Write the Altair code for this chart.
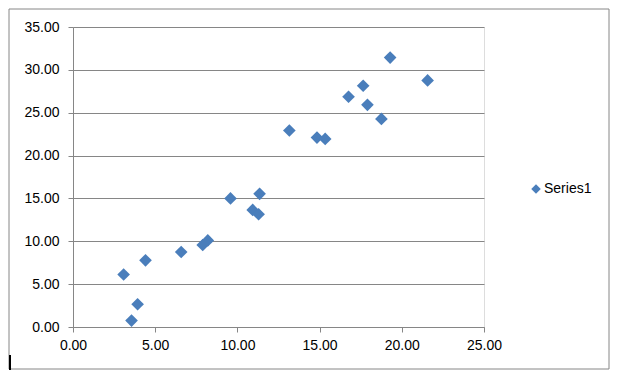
import altair as alt
import pandas as pd

x_vals = [3.08, 3.56, 3.93, 4.41, 6.58, 7.89, 8.20, 9.58, 10.93, 11.29, 11.35,
          13.16, 14.84, 15.34, 16.76, 17.65, 17.91, 18.76, 19.29, 21.57]
y_vals = [6.13, 0.75, 2.66, 7.78, 8.75, 9.57, 10.10, 15.00, 13.66, 13.16, 15.54,
          22.92, 22.10, 21.94, 26.86, 28.15, 25.92, 24.28, 31.43, 28.77]
series_name = ["Series1"] * len(x_vals)
x_ticks = [0, 5, 10, 15, 20, 25]
y_ticks = [0, 5, 10, 15, 20, 25, 30, 35]

df = pd.DataFrame({"x": x_vals, "y": y_vals, "series": series_name})

BLUE = "#4A7EBB"
GRAY = "#868686"
FONT = "Liberation Sans"

points = alt.Chart(df).mark_point(shape="diamond", filled=True, opacity=1, size=160).encode(
    x=alt.X("x:Q", scale=alt.Scale(domain=[0, 25], nice=False),
            axis=alt.Axis(values=x_ticks, format=".2f", title=None, grid=False,
                          domainColor=GRAY, tickColor=GRAY, tickSize=5,
                          labelFlush=False,
                          labelPadding=6, labelFontSize=14, labelFont=FONT,
                          labelColor="#000000")),
    y=alt.Y("y:Q", scale=alt.Scale(domain=[0, 35], nice=False),
            axis=alt.Axis(values=y_ticks, format=".2f", title=None, grid=True,
                          gridColor=GRAY, domainColor=GRAY, tickColor=GRAY, tickSize=5,
                          labelPadding=9, labelFontSize=14, labelFont=FONT,
                          labelColor="#000000")),
    color=alt.Color("series:N", scale=alt.Scale(range=[BLUE]),
                    legend=alt.Legend(title=None, orient="none", legendX=456, legendY=155,
                                      symbolType="diamond", symbolSize=90,
                                      symbolStrokeWidth=0, labelOffset=1,
                                      labelFontSize=14, labelFont=FONT,
                                      labelColor="#000000", padding=0)),
)

border = alt.Chart(alt.Data(values=[{}])).mark_rect(
    fill=None, stroke=GRAY, strokeWidth=1, clip=False
).encode(x=alt.value(-64), x2=alt.value(536), y=alt.value(-18), y2=alt.value(342))

cursor = alt.Chart(alt.Data(values=[{}])).mark_rule(
    color="#000000", strokeWidth=2, clip=False
).encode(x=alt.value(-63), y=alt.value(328), y2=alt.value(343))

chart = alt.layer(border, points, cursor).properties(
    width=411, height=300,
    autosize=alt.AutoSizeParams(type="none"),
    padding={"left": 65, "top": 19, "right": 128, "bottom": 47},
).configure_view(stroke=None).configure(background="white")

chart.save("out.html", embed_options={"renderer": "svg", "actions": False})
